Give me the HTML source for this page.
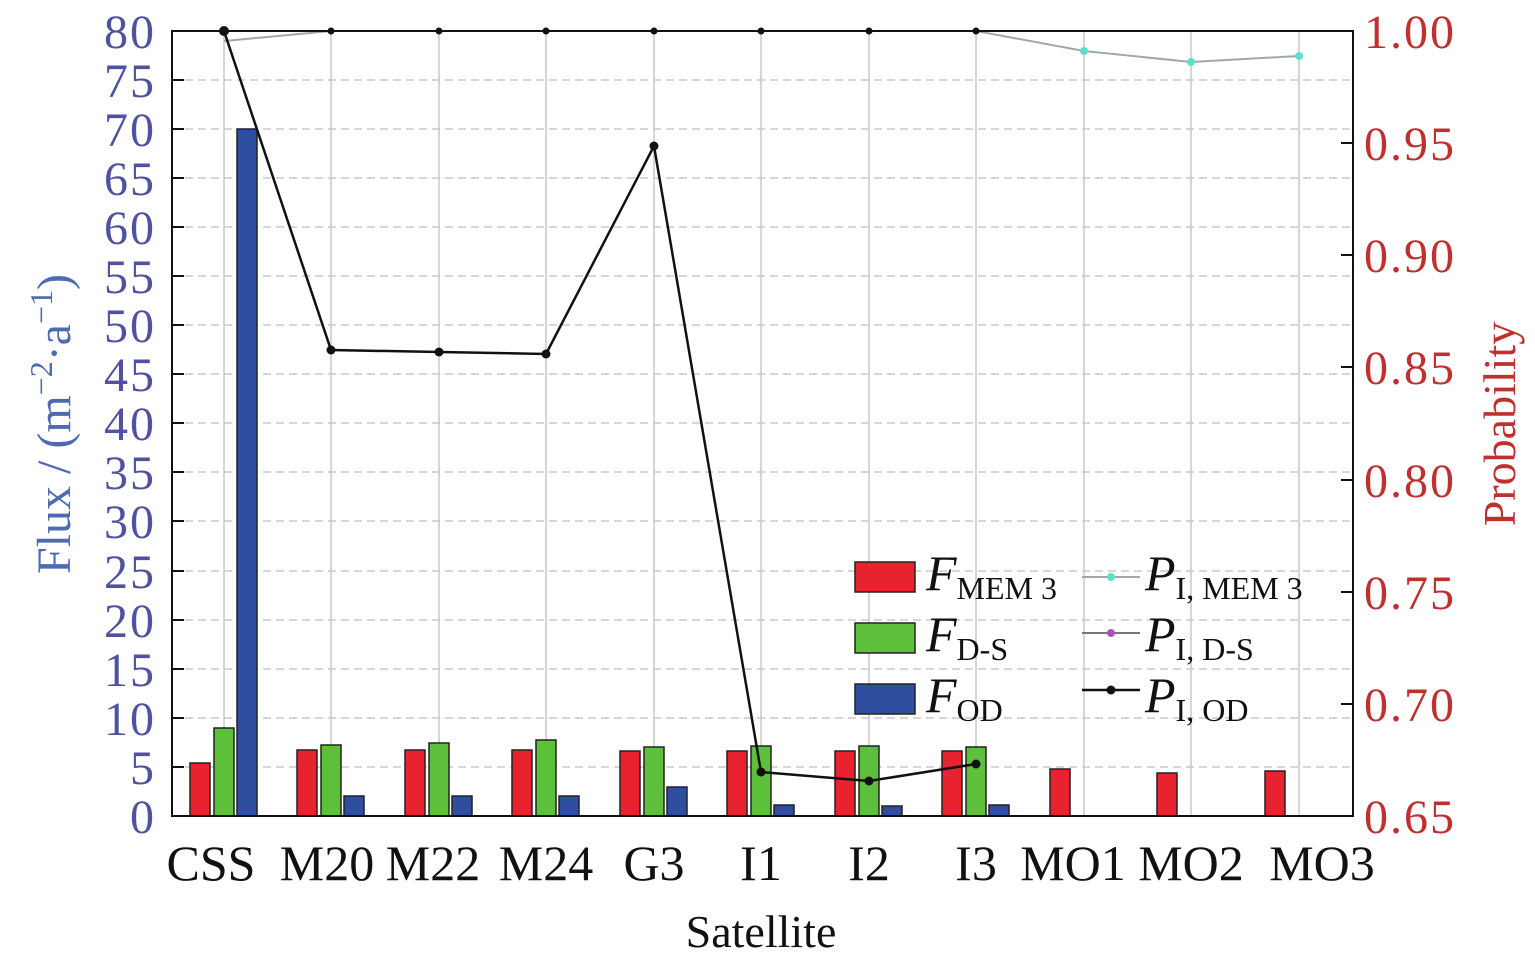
<!DOCTYPE html>
<html><head><style>body{margin:0;background:#fff}svg{display:block}</style></head>
<body>
<svg width="1535" height="966" xmlns="http://www.w3.org/2000/svg" font-family="Liberation Serif, serif">
<rect width="1535" height="966" fill="#fff"/>
<g stroke="#c8c8c8" stroke-width="1.5" stroke-dasharray="8,5">
<line x1="172" x2="1353" y1="767" y2="767"/><line x1="172" x2="1353" y1="718" y2="718"/>
<line x1="172" x2="1353" y1="669" y2="669"/><line x1="172" x2="1353" y1="620" y2="620"/>
<line x1="172" x2="1353" y1="571" y2="571"/><line x1="172" x2="1353" y1="521" y2="521"/>
<line x1="172" x2="1353" y1="472" y2="472"/><line x1="172" x2="1353" y1="423" y2="423"/>
<line x1="172" x2="1353" y1="374" y2="374"/><line x1="172" x2="1353" y1="325" y2="325"/>
<line x1="172" x2="1353" y1="276" y2="276"/><line x1="172" x2="1353" y1="227" y2="227"/>
<line x1="172" x2="1353" y1="178" y2="178"/><line x1="172" x2="1353" y1="129" y2="129"/>
<line x1="172" x2="1353" y1="80" y2="80"/>
</g>
<g stroke="#c8c8c8" stroke-width="1.5">
<line x1="224" x2="224" y1="31" y2="816"/><line x1="331" x2="331" y1="31" y2="816"/>
<line x1="439" x2="439" y1="31" y2="816"/><line x1="546" x2="546" y1="31" y2="816"/>
<line x1="654" x2="654" y1="31" y2="816"/><line x1="761" x2="761" y1="31" y2="816"/>
<line x1="869" x2="869" y1="31" y2="816"/><line x1="976" x2="976" y1="31" y2="816"/>
<line x1="1084" x2="1084" y1="31" y2="816"/><line x1="1191" x2="1191" y1="31" y2="816"/>
<line x1="1299" x2="1299" y1="31" y2="816"/>
</g>
<g stroke="#222" stroke-width="1.5">
<g fill="#e8222e">
<rect x="190" y="763" width="20" height="53"/><rect x="297" y="750" width="20" height="66"/>
<rect x="405" y="750" width="20" height="66"/><rect x="512" y="750" width="20" height="66"/>
<rect x="620" y="751" width="20" height="65"/><rect x="727" y="751" width="20" height="65"/>
<rect x="835" y="751" width="20" height="65"/><rect x="942" y="751" width="20" height="65"/>
<rect x="1050" y="769" width="20" height="47"/><rect x="1157" y="773" width="20" height="43"/>
<rect x="1265" y="771" width="20" height="45"/>
</g>
<g fill="#5cc03a">
<rect x="214" y="728" width="20" height="88"/><rect x="321" y="745" width="20" height="71"/>
<rect x="429" y="743" width="20" height="73"/><rect x="536" y="740" width="20" height="76"/>
<rect x="644" y="747" width="20" height="69"/><rect x="751" y="746" width="20" height="70"/>
<rect x="859" y="746" width="20" height="70"/><rect x="966" y="747" width="20" height="69"/>
</g>
<g fill="#2e4ea0">
<rect x="237" y="129" width="20" height="687"/><rect x="344" y="796" width="20" height="20"/>
<rect x="452" y="796" width="20" height="20"/><rect x="559" y="796" width="20" height="20"/>
<rect x="667" y="787" width="20" height="29"/><rect x="774" y="805" width="20" height="11"/>
<rect x="882" y="806" width="20" height="10"/><rect x="989" y="805" width="20" height="11"/>
</g>
</g>
<polyline fill="none" stroke="#a0a8a8" stroke-width="2" points="224,41 331,31 439,31 546,31 654,31 761,31 869,31 976,31 1084,51 1191,62 1299,56"/>
<g fill="#5ee0c8"><circle cx="1084" cy="51" r="4"/><circle cx="1191" cy="62" r="4"/><circle cx="1299" cy="56" r="4"/></g>
<polyline fill="none" stroke="#111" stroke-width="2.5" points="224,31 331,350 439,352 546,354 654,146 761,772 869,781 976,764"/>
<g fill="#111"><circle cx="224" cy="31" r="5"/><circle cx="331" cy="350" r="4.5"/><circle cx="439" cy="352" r="4.5"/><circle cx="546" cy="354" r="4.5"/><circle cx="654" cy="146" r="4.5"/><circle cx="761" cy="772" r="4.5"/><circle cx="869" cy="781" r="4.5"/><circle cx="976" cy="764" r="4.5"/>
<circle cx="331" cy="31" r="3.5"/><circle cx="439" cy="31" r="3.5"/><circle cx="546" cy="31" r="3.5"/><circle cx="654" cy="31" r="3.5"/><circle cx="761" cy="31" r="3.5"/><circle cx="869" cy="31" r="3.5"/><circle cx="976" cy="31" r="3.5"/></g>
<rect x="172" y="31" width="1181" height="785" fill="none" stroke="#111" stroke-width="2"/>
<g stroke="#111" stroke-width="2">
<line x1="172" x2="184" y1="767" y2="767"/><line x1="172" x2="184" y1="718" y2="718"/><line x1="172" x2="184" y1="669" y2="669"/><line x1="172" x2="184" y1="620" y2="620"/><line x1="172" x2="184" y1="571" y2="571"/><line x1="172" x2="184" y1="521" y2="521"/><line x1="172" x2="184" y1="472" y2="472"/><line x1="172" x2="184" y1="423" y2="423"/><line x1="172" x2="184" y1="374" y2="374"/><line x1="172" x2="184" y1="325" y2="325"/><line x1="172" x2="184" y1="276" y2="276"/><line x1="172" x2="184" y1="227" y2="227"/><line x1="172" x2="184" y1="178" y2="178"/><line x1="172" x2="184" y1="129" y2="129"/><line x1="172" x2="184" y1="80" y2="80"/>
<line x1="1341" x2="1353" y1="704" y2="704"/><line x1="1341" x2="1353" y1="592" y2="592"/><line x1="1341" x2="1353" y1="480" y2="480"/><line x1="1341" x2="1353" y1="367" y2="367"/><line x1="1341" x2="1353" y1="255" y2="255"/><line x1="1341" x2="1353" y1="143" y2="143"/>
</g>
<g font-size="48" fill="#4e52a0" text-anchor="end" letter-spacing="2">
<text x="156" y="833">0</text><text x="156" y="784">5</text><text x="156" y="735">10</text><text x="156" y="686">15</text><text x="156" y="637">20</text><text x="156" y="588">25</text><text x="156" y="538">30</text><text x="156" y="489">35</text><text x="156" y="440">40</text><text x="156" y="391">45</text><text x="156" y="342">50</text><text x="156" y="293">55</text><text x="156" y="244">60</text><text x="156" y="195">65</text><text x="156" y="146">70</text><text x="156" y="97">75</text><text x="156" y="48">80</text>
</g>
<g font-size="48" fill="#c03030" letter-spacing="2">
<text x="1364" y="833">0.65</text><text x="1364" y="721">0.70</text><text x="1364" y="609">0.75</text><text x="1364" y="497">0.80</text><text x="1364" y="384">0.85</text><text x="1364" y="272">0.90</text><text x="1364" y="160">0.95</text><text x="1364" y="48">1.00</text>
</g>
<g font-size="50" fill="#111" text-anchor="middle">
<text x="211" y="880">CSS</text><text x="327" y="880">M20</text><text x="433" y="880">M22</text><text x="546" y="880">M24</text><text x="654" y="880">G3</text><text x="761" y="880">I1</text><text x="869" y="880">I2</text><text x="976" y="880">I3</text><text x="1073" y="880">MO1</text><text x="1191" y="880">MO2</text><text x="1322" y="880">MO3</text>
<text x="761" y="947" font-size="46">Satellite</text>
</g>
<text transform="translate(70,424) rotate(-90)" text-anchor="middle" font-size="48" fill="#4e6ab0">Flux / (m<tspan dy="-18" font-size="32">−2</tspan><tspan dy="18">·a</tspan><tspan dy="-18" font-size="32">−1</tspan><tspan dy="18">)</tspan></text>
<text transform="translate(1515,424) rotate(-90)" text-anchor="middle" font-size="46" fill="#c03030">Probability</text>
<g stroke="#222" stroke-width="1.5">
<rect x="855" y="562" width="60" height="30" fill="#e8222e"/>
<rect x="855" y="623" width="60" height="30" fill="#5cc03a"/>
<rect x="855" y="684" width="60" height="30" fill="#2e4ea0"/>
</g>
<line x1="1082" x2="1140" y1="577" y2="577" stroke="#a0a8a8" stroke-width="2"/><circle cx="1111" cy="577" r="4" fill="#5ee0c8"/>
<line x1="1082" x2="1140" y1="633" y2="633" stroke="#777" stroke-width="2"/><circle cx="1111" cy="633" r="4" fill="#b050c0"/>
<line x1="1082" x2="1140" y1="690" y2="690" stroke="#111" stroke-width="2.5"/><circle cx="1111" cy="690" r="4.5" fill="#111"/>
<g font-size="50" fill="#111">
<text x="926" y="590" font-style="italic">F<tspan font-style="normal" font-size="32" dy="9">MEM 3</tspan></text>
<text x="926" y="651" font-style="italic">F<tspan font-style="normal" font-size="32" dy="9">D-S</tspan></text>
<text x="926" y="712" font-style="italic">F<tspan font-style="normal" font-size="32" dy="9">OD</tspan></text>
<text x="1145" y="590" font-style="italic">P<tspan font-style="normal" font-size="32" dy="9">I, MEM 3</tspan></text>
<text x="1145" y="651" font-style="italic">P<tspan font-style="normal" font-size="32" dy="9">I, D-S</tspan></text>
<text x="1145" y="712" font-style="italic">P<tspan font-style="normal" font-size="32" dy="9">I, OD</tspan></text>
</g>
</svg>
</body></html>
